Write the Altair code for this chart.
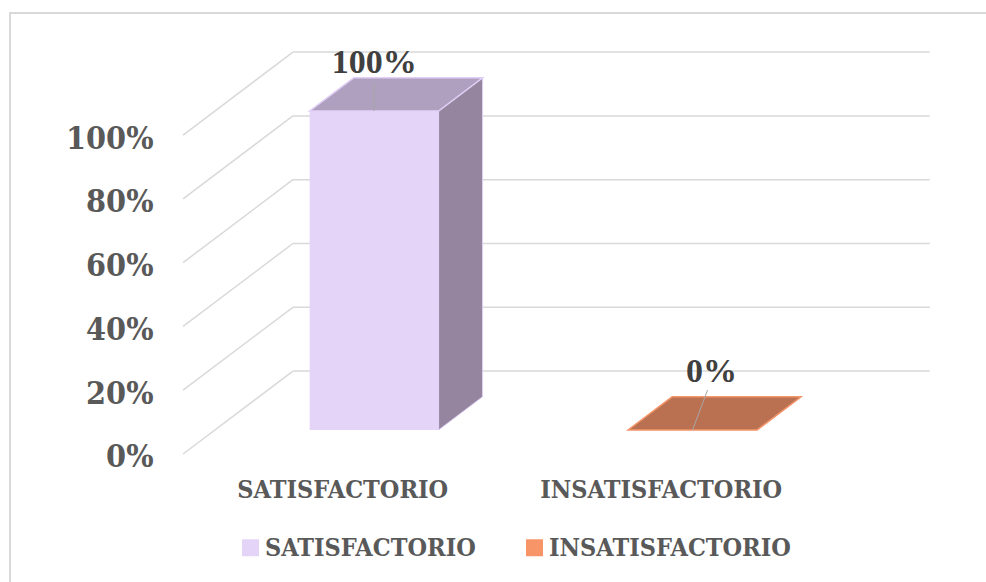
import json
import altair as alt
import pandas as pd

# ---------------- data ----------------
CATEGORIES = ["SATISFACTORIO", "INSATISFACTORIO"]
VALUES = [100, 0]
VALUE_LABELS = ["100%", "0%"]
Y_TICKS = [0, 20, 40, 60, 80, 100]

# ---------------- style ----------------
FRONT_COLORS = ["#E4D4F8", "#F79468"]
TOP_COLORS = ["#B0A0BF", "#BA7152"]
SIDE_COLORS = ["#95859F", "#A05E40"]
EDGE_COLORS = ["#E2CFF7", "#F4956A"]
GRID_COLOR = "#D9D9D9"
TEXT_GRAY = "#595959"
LABEL_DARK = "#404040"
SERIF = "DejaVu Serif Condensed, DejaVu Serif, serif"
TIMES = "Liberation Serif, serif"

# oblique-projection geometry (depth offsets in data units)
DX, DY = 0.345, 26.0      # full floor depth: x units, percent
F, B = 0.29, 0.69         # bar front / back depth fraction
HALF = 0.2025             # half bar width (category units)
X_DOM = [-0.041, 2.377]
Y_DOM = [-3.45, 129.8]
N = len(CATEGORIES)

# ---------------- derived tables ----------------
bars = pd.DataFrame({"cat": CATEGORIES, "value": VALUES, "label": VALUE_LABELS})
bars["idx"] = range(N)
bars["xl"] = bars.idx + 0.5 - HALF + F * DX
bars["xr"] = bars.idx + 0.5 + HALF + F * DX
bars["xc"] = bars.idx + 0.5 + F * DX
bars["yb"] = F * DY
bars["yt"] = bars.value + F * DY

side_rows, top_rows = [], []
for i, (c, v) in enumerate(zip(CATEGORIES, VALUES)):
    for d in (F, B):
        side_rows.append({"cat": c, "x": i + 0.5 + HALF + d * DX,
                          "ylo": d * DY, "yhi": v + d * DY})
        top_rows.append({"cat": c, "y": v + d * DY,
                         "xa": i + 0.5 - HALF + d * DX,
                         "xb": i + 0.5 + HALF + d * DX})
side = pd.DataFrame(side_rows)
top = pd.DataFrame(top_rows)

grid = pd.DataFrame({"v": Y_TICKS})
grid["x0"] = 0.0
grid["x1"] = DX
grid["x2"] = N + DX
grid["vb"] = grid.v + DY

xs = alt.Scale(domain=X_DOM, nice=False, zero=False)
ys = alt.Scale(domain=Y_DOM, nice=False, zero=False)

x_axis = alt.Axis(values=[i + 0.5 for i in range(N)],
                  labelExpr=json.dumps(CATEGORIES) + "[floor(datum.value)]",
                  title=None, grid=False, domain=False, ticks=False,
                  labelFont=SERIF, labelFontSize=25, labelFontWeight="bold",
                  labelColor=TEXT_GRAY, labelPadding=12, labelOverlap=False,
                  labelFlush=False, labelLimit=500)
y_axis = alt.Axis(values=Y_TICKS, labelExpr="datum.value + '%'",
                  title=None, grid=False, domain=False, ticks=False,
                  labelFont=SERIF, labelFontSize=32, labelFontWeight="bold",
                  labelColor=TEXT_GRAY, labelPadding=17, labelOverlap=False,
                  labelOffset=3, labelLimit=500)


def X(field):
    return alt.X(field, scale=xs, axis=x_axis)


def Y(field):
    return alt.Y(field, scale=ys, axis=y_axis)


frame = alt.Chart(grid).mark_rect(filled=False, stroke=GRID_COLOR, strokeWidth=1.5).encode(
    x=alt.value(-160), x2=alt.value(900), y=alt.value(-27), y2=alt.value(700))

grid_diag = alt.Chart(grid).mark_rule(color=GRID_COLOR, strokeWidth=1.5).encode(
    x=X("x0:Q"), x2="x1:Q", y=Y("v:Q"), y2="vb:Q")
grid_back = alt.Chart(grid).mark_rule(color=GRID_COLOR, strokeWidth=1.5).encode(
    x=X("x1:Q"), x2="x2:Q", y=Y("vb:Q"))

side_face = alt.Chart(side).mark_area(strokeWidth=1).encode(
    x=X("x:Q"), y=Y("yhi:Q"), y2="ylo:Q",
    fill=alt.Fill("cat:N", scale=alt.Scale(domain=CATEGORIES, range=SIDE_COLORS), legend=None),
    stroke=alt.Stroke("cat:N", scale=alt.Scale(domain=CATEGORIES, range=EDGE_COLORS), legend=None),
    detail="cat:N")

front_face = alt.Chart(bars).mark_rect(opacity=1).encode(
    x=X("xl:Q"), x2="xr:Q", y=Y("yb:Q"), y2="yt:Q",
    color=alt.Color("cat:N", scale=alt.Scale(domain=CATEGORIES, range=FRONT_COLORS),
                    legend=alt.Legend(orient="none", legendX=68, legendY=495,
                                      direction="horizontal", title=None,
                                      symbolType="square", symbolSize=289,
                                      symbolStrokeWidth=0, symbolOpacity=1,
                                      labelFont=SERIF, labelFontSize=25,
                                      labelFontWeight="bold", labelColor=TEXT_GRAY,
                                      labelOffset=2, columnPadding=46,
                                      labelLimit=400)))

top_face = alt.Chart(top).mark_area(orient="horizontal", strokeWidth=1.5).encode(
    y=Y("y:Q"), x=X("xa:Q"), x2="xb:Q",
    fill=alt.Fill("cat:N", scale=alt.Scale(domain=CATEGORIES, range=TOP_COLORS), legend=None),
    stroke=alt.Stroke("cat:N", scale=alt.Scale(domain=CATEGORIES, range=EDGE_COLORS), legend=None),
    detail="cat:N")

# data labels with leader lines (offsets per bar, in pixels)
LEADER = [(0, -28, 0, -38), (15, -40, 19, -48)]
label_layers = []
for c, (lx, ly, tx, ty) in zip(CATEGORIES, LEADER):
    base = alt.Chart(bars).transform_filter(alt.datum.cat == c)
    label_layers.append(base.mark_rule(color="#A6A6A6", strokeWidth=1,
                                       x2Offset=lx, y2Offset=ly).encode(
        x=X("xc:Q"), x2="xc:Q", y=Y("yt:Q"), y2="yt:Q"))
    label_layers.append(base.mark_text(font=TIMES, fontSize=34, fontWeight="bold",
                                       color=LABEL_DARK, dx=tx, dy=ty,
                                       baseline="alphabetic", align="center").encode(
        x=X("xc:Q"), y=Y("yt:Q"), text="label:N"))

chart = alt.layer(frame, grid_diag, grid_back, side_face, front_face, top_face,
                  *label_layers).resolve_scale(
    color="independent", fill="independent", stroke="independent"
).properties(
    width=770, height=425,
    autosize=alt.AutoSizeParams(type="none"),
    padding={"left": 170, "top": 40, "right": 46, "bottom": 117},
    background="white",
).configure_view(stroke=None)

chart.save("out.html", embed_options={"renderer": "svg", "actions": False})
